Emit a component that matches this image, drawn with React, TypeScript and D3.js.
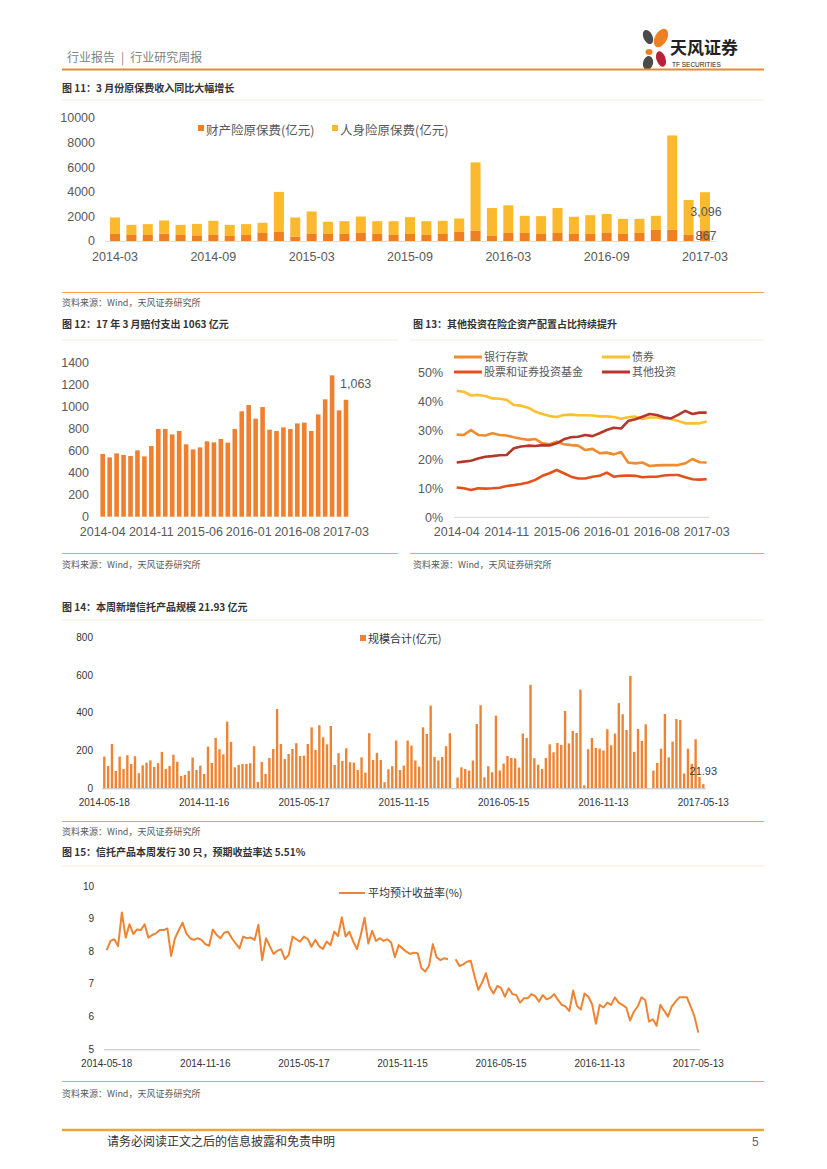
import React from 'react';
import * as d3 from 'd3';

const W = 827;
const H = 1169;
const CN = '"Noto Sans CJK SC", "Liberation Sans", sans-serif';
const LAT = '"Liberation Sans", "Noto Sans CJK SC", sans-serif';

const ORANGE = '#EE7F22';
const YELLOW = '#FBB92D';
const LINE_OR = '#EFA34F';

// month labels like 2014-03, 2014-04 ...
const monthsOf = (start: string, n: number) => {
  const s = d3.timeParse('%Y-%m')(start)!;
  return d3.range(n).map(i => d3.timeFormat('%Y-%m')(d3.timeMonth.offset(s, i)));
};

// fig 11: premium income (亿元)
const premMonths = monthsOf('2014-03', 37);
const premProperty = [573, 491, 491, 600, 491, 464, 491, 410, 491, 655, 737, 355, 573, 573, 573, 655, 573, 491, 573, 491, 573, 737, 846, 410, 655, 655, 573, 655, 573, 573, 655, 573, 655, 900, 928, 491, 867];
const premLife = [1337, 819, 879, 1070, 819, 926, 1149, 900, 879, 825, 3253, 1555, 1827, 987, 1037, 1335, 1037, 1119, 1367, 1119, 1067, 1093, 5544, 2270, 2245, 1395, 1447, 2025, 1397, 1527, 1535, 1227, 1145, 1150, 7652, 2839, 3096];
const premTicks = ['2014-03', '2014-09', '2015-03', '2015-09', '2016-03', '2016-09', '2017-03'];

// fig 12: claims paid (亿元)
const claimMonths = monthsOf('2014-04', 36);
const claims = [570, 539, 576, 561, 552, 603, 548, 642, 797, 797, 748, 779, 658, 612, 630, 685, 676, 706, 673, 797, 958, 1015, 891, 997, 791, 779, 812, 797, 848, 855, 779, 930, 1067, 1285, 967, 1063];
const claimTicks = ['2014-04', '2014-11', '2015-06', '2016-01', '2016-08', '2017-03'];

// fig 13: asset allocation (%)
const allocMonths = monthsOf('2014-04', 36);
const deposit = [28.5, 28.4, 30.1, 28.4, 28.2, 29.0, 28.4, 28.2, 27.6, 27.1, 26.7, 27.0, 25.5, 25.2, 26.1, 25.2, 24.9, 24.7, 23.2, 23.6, 22.1, 22.3, 21.7, 22.5, 18.9, 18.6, 18.9, 17.7, 17.9, 18.0, 18.0, 18.0, 18.6, 20.1, 19.0, 18.9];
const bonds = [43.6, 43.3, 42.0, 42.2, 41.8, 41.0, 40.9, 40.5, 38.7, 38.5, 37.8, 36.4, 35.6, 34.9, 34.6, 35.3, 35.4, 35.2, 35.2, 35.1, 34.8, 34.8, 34.6, 34.0, 34.5, 34.7, 33.9, 34.4, 34.4, 34.0, 33.9, 33.2, 32.4, 32.4, 32.4, 33.0];
const stocks = [10.3, 10.0, 9.4, 10.0, 9.9, 10.0, 10.2, 10.8, 11.1, 11.5, 12.0, 12.9, 14.3, 15.2, 16.3, 15.2, 14.0, 13.4, 13.4, 14.0, 14.3, 15.4, 14.0, 14.3, 14.4, 14.3, 13.8, 14.0, 14.0, 14.4, 14.6, 14.6, 13.8, 13.1, 13.0, 13.1];
const others = [18.9, 19.2, 19.5, 20.3, 20.9, 21.1, 21.4, 21.5, 23.8, 24.4, 24.7, 24.6, 24.9, 24.8, 25.5, 26.9, 27.6, 27.8, 28.4, 28.0, 29.0, 30.1, 30.9, 30.6, 33.2, 33.8, 34.7, 35.6, 35.3, 34.5, 34.1, 35.3, 36.7, 35.6, 36.1, 36.1];
const allocTicks = ['2014-04', '2014-11', '2015-06', '2016-01', '2016-08', '2017-03'];

// fig 14 / 15: weekly trust products
const weeks = d3.range(157);
const weekTickIdx = [0, 26, 52, 78, 104, 130, 156];
const weekTickLabels = ['2014-05-18', '2014-11-16', '2015-05-17', '2015-11-15', '2016-05-15', '2016-11-13', '2017-05-13'];
const trustScale: (number | null)[] = [
  168, 118, 235, 92, 168, 102, 175, 129, 170, 80,
  122, 136, 148, 113, 133, 193, 102, 118, 178, 141,
  65, 71, 92, 163, 97, 120, 76, 221, 134, 267,
  207, 180, 353, 246, 111, 124, 129, 129, 133, 223,
  34, 140, 76, 161, 208, 420, 235, 155, 182, 208,
  239, 171, 173, 235, 323, 203, 334, 270, 233, 330,
  124, 186, 145, 212, 138, 136, 97, 164, 83, 292,
  150, 187, 150, 32, 101, 117, 253, 97, 120, 253,
  226, 147, 115, 323, 288, 438, 166, 147, 166, 223, 292,
  null,
  57, 111, 102, 94, 147, 341, 440, 58, 117, 85,
  385, 94, 131, 171, 161, 159, 110, 290, 267, 548,
  159, 125, 102, 161, 233, 191, 240, 230, 410, 238,
  304, 293, 523, 16, 207, 267, 214, 210, 200, 313,
  228, 290, 451, 392, 309, 595, 193, 314, 251, 339,
  null, 94, 134, 210, 394, 164, 247, 367, 362, 78,
  210, 129, 260, 60, 21.93,
];
const trustYield: (number | null)[] = [
  8.04, 8.32, 8.37, 8.16, 9.19, 8.42, 8.83, 8.53, 8.67, 8.65,
  8.83, 8.42, 8.50, 8.55, 8.65, 8.65, 8.70, 7.86, 8.40, 8.65,
  8.88, 8.55, 8.40, 8.35, 8.40, 8.35, 8.22, 8.17, 8.67, 8.50,
  8.40, 8.57, 8.60, 8.40, 8.24, 8.09, 8.45, 8.40, 8.42, 8.35,
  8.81, 7.73, 8.40, 8.16, 7.92, 8.02, 8.06, 7.76, 7.89, 8.45,
  8.37, 8.30, 8.45, 8.38, 8.14, 8.35, 8.16, 8.07, 8.30, 8.19,
  8.60, 8.47, 9.04, 8.45, 8.60, 8.30, 8.07, 8.50, 9.03, 8.24,
  8.63, 8.32, 8.40, 8.32, 8.37, 8.27, 7.82, 8.19, 8.09, 7.99,
  7.92,
  7.96, 7.94, 7.48, 7.38, 7.56, 8.22, 7.82, 7.73, 7.79, 7.76,
  null,
  7.76, 7.55, 7.60, 7.68, 7.71, 7.24, 6.82, 7.05, 7.33, 6.90,
  6.71, 6.94, 6.87, 6.61, 6.87, 6.69, 6.66, 6.43, 6.56, 6.56,
  6.69, 6.63, 6.46, 6.66, 6.53, 6.58, 6.69, 6.51, 6.36, 6.31,
  6.17, 6.80, 6.33, 6.22, 6.71, 6.61, 6.38, 5.78, 6.36, 6.28,
  6.43, 6.36, 6.59, 6.43, 6.36, 6.28, 5.88, 6.15, 6.31, 6.59,
  6.51, 5.85, 5.92, 5.72, 6.36, 6.18, 6.00, 6.31, 6.46, 6.59,
  6.59, 6.59, 6.31, 6.00, 5.51,
];

const gray = '#595959';

const Premium = () => {
  const x = d3.scalePoint<string>().domain(premMonths).range([115, 705]);
  const y = d3.scaleLinear().domain([0, 10000]).range([241, 118]);
  const bw = 10;
  const last = premMonths.length - 1;
  const lm = premMonths[last];
  return (
    <g fontFamily={LAT} fill={gray}>
      {y.ticks(5).map(v => (
        <text key={v} x={95} y={y(v)} dy="0.35em" textAnchor="end" fontSize={12.5}>{v}</text>
      ))}
      {premMonths.map((m, i) => {
        const p = premProperty[i];
        const t = p + premLife[i];
        return (
          <g key={m}>
            <rect x={x(m)! - bw / 2} y={y(p)} width={bw} height={y(0) - y(p)} fill={ORANGE} />
            <rect x={x(m)! - bw / 2} y={y(t)} width={bw} height={y(p) - y(t)} fill={YELLOW} />
          </g>
        );
      })}
      <line x1={105} x2={716} y1={y(0) + 0.5} y2={y(0) + 0.5} stroke="#D6E0EA" />
      {premTicks.map(t => (
        <text key={t} x={x(t)} y={261} textAnchor="middle" fontSize={12.5}>{t}</text>
      ))}
      <text x={x(lm)! + 1} y={y(premProperty[last] + premLife[last] / 2)} dy="0.35em" textAnchor="middle" fontSize={12.5}>{d3.format(',')(premLife[last])}</text>
      <text x={x(lm)! + 1} y={y(premProperty[last] / 2)} dy="0.35em" textAnchor="middle" fontSize={12.5}>{premProperty[last]}</text>
      <rect x={198} y={125} width={6} height={6} fill={ORANGE} />
      <text x={206} y={135} fontSize={12.5} fontFamily={CN}>财产险原保费(亿元)</text>
      <rect x={332} y={125} width={6} height={6} fill={YELLOW} />
      <text x={340} y={135} fontSize={12.5} fontFamily={CN}>人身险原保费(亿元)</text>
    </g>
  );
};

const Claims = () => {
  const x = d3.scalePoint<string>().domain(claimMonths).range([102.7, 346]);
  const y = d3.scaleLinear().domain([0, 1400]).range([516.7, 362.7]);
  const bw = 4.6;
  const lastM = claimMonths[claimMonths.length - 1];
  const lastV = claims[claims.length - 1];
  return (
    <g fontFamily={LAT} fill={gray}>
      {d3.range(0, 1401, 200).map(v => (
        <text key={v} x={89} y={y(v)} dy="0.35em" textAnchor="end" fontSize={12.5}>{v}</text>
      ))}
      {claimMonths.map((m, i) => (
        <rect key={m} x={x(m)! - bw / 2} y={y(claims[i])} width={bw} height={y(0) - y(claims[i])} fill="#EE8030" />
      ))}
      {claimTicks.map(t => (
        <text key={t} x={x(t)} y={536} textAnchor="middle" fontSize={12.5}>{t}</text>
      ))}
      <text x={x(lastM)! - 6} y={y(lastV) - 12} fontSize={12.5}>{d3.format(',')(lastV)}</text>
    </g>
  );
};

const Alloc = () => {
  const x = d3.scalePoint<string>().domain(allocMonths).range([456.7, 706.7]);
  const y = d3.scaleLinear().domain([0, 50]).range([517.3, 372.3]);
  const line = d3.line<number>().x((_, i) => x(allocMonths[i])!).y(d => y(d));
  const series = [
    { name: '银行存款', data: deposit, color: '#F08B2E' },
    { name: '债券', data: bonds, color: '#FAC02E' },
    { name: '股票和证券投资基金', data: stocks, color: '#E2501C' },
    { name: '其他投资', data: others, color: '#B3372A' },
  ];
  const legendPos = [[454, 357], [602, 357], [454, 372], [602, 372]];
  return (
    <g fontFamily={LAT} fill={gray}>
      {d3.range(0, 51, 10).map(v => (
        <text key={v} x={443} y={y(v)} dy="0.35em" textAnchor="end" fontSize={12.5}>{v}%</text>
      ))}
      <line x1={454} x2={709} y1={y(0)} y2={y(0)} stroke="#D9D9D9" />
      {series.map(s => (
        <path key={s.name} d={line(s.data)!} fill="none" stroke={s.color} strokeWidth={2.6} strokeLinejoin="round" />
      ))}
      {allocTicks.map(t => (
        <text key={t} x={x(t)} y={536} textAnchor="middle" fontSize={12.5}>{t}</text>
      ))}
      {series.map((s, i) => (
        <g key={s.name}>
          <line x1={legendPos[i][0]} x2={legendPos[i][0] + 28} y1={legendPos[i][1]} y2={legendPos[i][1]} stroke={s.color} strokeWidth={3} />
          <text x={legendPos[i][0] + 30} y={legendPos[i][1] + 4} fontSize={11} fontFamily={CN}>{s.name}</text>
        </g>
      ))}
    </g>
  );
};

const TrustScale = () => {
  const x = d3.scalePoint<number>().domain(weeks).range([104.3, 703.3]);
  const y = d3.scaleLinear().domain([0, 800]).range([788.3, 637.3]);
  const bw = 2.4;
  const last = weeks.length - 1;
  return (
    <g fontFamily={LAT} fill="#333">
      {d3.range(0, 801, 200).map(v => (
        <text key={v} x={93} y={y(v)} dy="0.35em" textAnchor="end" fontSize={10}>{v}</text>
      ))}
      {weeks.map((w, i) => trustScale[i] == null ? null : (
        <rect key={w} x={x(w)! - bw / 2} y={y(trustScale[i]!)} width={bw} height={y(0) - y(trustScale[i]!)} fill="#EE8433" />
      ))}
      <line x1={102} x2={706} y1={y(0) + 0.5} y2={y(0) + 0.5} stroke="#BFBFBF" />
      {weekTickIdx.map((w, i) => (
        <text key={w} x={x(w)} y={806} textAnchor="middle" fontSize={10}>{weekTickLabels[i]}</text>
      ))}
      <text x={x(last)} y={y(0) - 13} textAnchor="middle" fontSize={11} fill="#404040">{trustScale[last]}</text>
      <rect x={360} y={635} width={6} height={6} fill="#EE8433" />
      <text x={368} y={643} fontSize={11} fontFamily={CN}>规模合计(亿元)</text>
    </g>
  );
};

const TrustYield = () => {
  const x = d3.scalePoint<number>().domain(weeks).range([106.7, 698.3]);
  const y = d3.scaleLinear().domain([5, 10]).range([1049.3, 886]);
  const line = d3.line<number | null>()
    .defined(d => d != null)
    .x((_, i) => x(weeks[i])!)
    .y(d => y(d as number));
  return (
    <g fontFamily={LAT} fill="#333">
      {d3.range(5, 11).map(v => (
        <text key={v} x={94} y={y(v)} dy="0.35em" textAnchor="end" fontSize={10}>{v}</text>
      ))}
      <line x1={104} x2={700} y1={y(5) + 0.5} y2={y(5) + 0.5} stroke="#BFBFBF" />
      <path d={line(trustYield)!} fill="none" stroke="#EE8433" strokeWidth={2} strokeLinejoin="round" />
      {weekTickIdx.map((w, i) => (
        <text key={w} x={x(w)} y={1067} textAnchor="middle" fontSize={10}>{weekTickLabels[i]}</text>
      ))}
      <line x1={339} x2={365} y1={893} y2={893} stroke="#EE8433" strokeWidth={2} />
      <text x={368} y={897} fontSize={11} fontFamily={CN}>平均预计收益率(%)</text>
    </g>
  );
};

const Title = ({ x, y, t }: { x: number; y: number; t: string }) => (
  <text x={x} y={y} fontSize={10} fontWeight="bold" fill="#333" fontFamily={CN}>{t}</text>
);

const Source = ({ x, y }: { x: number; y: number }) => (
  <text x={x} y={y} fontSize={9} fill={gray} fontFamily={CN}>资料来源：Wind，天风证券研究所</text>
);

const Logo = () => (
  <g>
    <ellipse cx={648} cy={37} rx={4.5} ry={7.5} transform="rotate(-25 648 37)" fill="#4A4A4A" />
    <ellipse cx={661} cy={38} rx={6} ry={10} transform="rotate(30 661 38)" fill="#EE8022" />
    <ellipse cx={649} cy={52} rx={3.5} ry={3} fill="#EE8022" />
    <ellipse cx={661} cy={59} rx={4.5} ry={8} transform="rotate(-20 661 59)" fill="#B7223A" />
    <ellipse cx={648} cy={63} rx={5} ry={7} transform="rotate(15 648 63)" fill="#4A4A4A" />
    <text x={670} y={54} fontSize={17} fontWeight="bold" fill="#222" fontFamily={CN}>天风证券</text>
    <text x={672} y={67} fontSize={6.5} fill="#222" fontFamily={LAT}>TF SECURITIES</text>
  </g>
);

const App = () => {
  return (
    <div style={{ position: 'absolute', left: 0, top: 0, width: W, height: H, background: '#fff' }}>
      <svg width={W} height={H} style={{ display: 'block' }}>
        <rect width={W} height={H} fill="#fff" />
        {/* header */}
        <text x={67} y={62} fontSize={12} fill="#7F7F7F" fontFamily={CN}>{'行业报告\u2002|\u2002行业研究周报'}</text>
        <Logo />
        <line x1={62} x2={764} y1={69.5} y2={69.5} stroke="#E8892B" strokeWidth={2} />

        {/* fig 11 */}
        <Title x={62} y={92} t="图 11：3 月份原保费收入同比大幅增长" />
        <line x1={62} x2={764} y1={100} y2={100} stroke="#F8EBDD" />
        <Premium />
        <line x1={62} x2={764} y1={292.5} y2={292.5} stroke={LINE_OR} />
        <Source x={62} y={306} />

        {/* fig 12 & 13 */}
        <Title x={62} y={328} t="图 12：17 年 3 月赔付支出 1063 亿元" />
        <Title x={413} y={328} t="图 13：其他投资在险企资产配置占比持续提升" />
        <line x1={62} x2={398} y1={340} y2={340} stroke="#F8EBDD" />
        <line x1={410} x2={764} y1={340} y2={340} stroke="#F8EBDD" />
        <Claims />
        <Alloc />
        <line x1={62} x2={398} y1={553.5} y2={553.5} stroke={LINE_OR} />
        <line x1={410} x2={764} y1={553.5} y2={553.5} stroke={LINE_OR} />
        <Source x={62} y={568} />
        <Source x={413} y={568} />

        {/* fig 14 */}
        <Title x={62} y={611} t="图 14：本周新增信托产品规模 21.93 亿元" />
        <line x1={62} x2={764} y1={620} y2={620} stroke="#F8EBDD" />
        <TrustScale />
        <line x1={62} x2={764} y1={821.5} y2={821.5} stroke={LINE_OR} />
        <Source x={62} y={835} />

        {/* fig 15 */}
        <Title x={62} y={856} t="图 15：信托产品本周发行 30 只，预期收益率达 5.51%" />
        <line x1={62} x2={764} y1={866} y2={866} stroke="#F8EBDD" />
        <TrustYield />
        <line x1={62} x2={764} y1={1081.5} y2={1081.5} stroke={LINE_OR} />
        <Source x={62} y={1097} />

        {/* footer */}
        <line x1={62} x2={764} y1={1130} y2={1130} stroke="#F0A232" strokeWidth={2.5} />
        <text x={107} y={1146} fontSize={12} fill="#333" fontFamily={CN}>请务必阅读正文之后的信息披露和免责申明</text>
        <text x={752} y={1146} fontSize={12} fill="#666" fontFamily={LAT}>5</text>
      </svg>
    </div>
  );
};

export default App;
